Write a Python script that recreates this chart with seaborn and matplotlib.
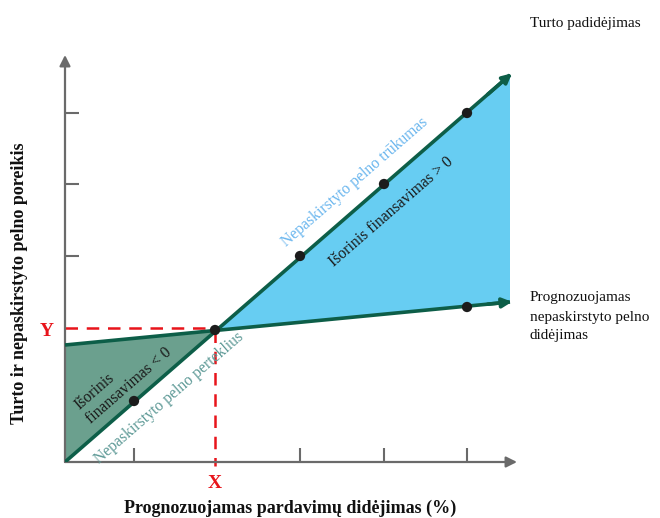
import numpy as np
import pandas as pd
import seaborn as sns
import matplotlib.pyplot as plt

# schematic values (axis units ~ pixels of the original figure)
x_ticks = [69, 235, 319, 402]
y_ticks = [61, 206, 278, 349]

asset_x = [0, 445]          # Turto padidėjimas
asset_y = [0, 387]
earn_x = [0, 445]           # Prognozuojamas nepaskirstyto pelno didėjimas
earn_y = [117, 160]

cross_x = 150
cross_y = 132

dot_x = [69, 235, 319, 402, 402, 150]
dot_y = [61, 206, 278, 349, 155, 132]

line_col = '#0d5e48'
blue = '#67cdf2'
green = '#6ba08e'
red = '#e8141b'
axis_col = '#6a6a6a'

sns.set_theme(style='white')
plt.rcParams['font.family'] = ['Liberation Serif', 'DejaVu Serif']

fig = plt.figure(figsize=(6.6, 5.18), dpi=100)
ax = fig.add_axes([65 / 660, 56 / 518, 455 / 660, 410 / 518])
ax.set_xlim(0, 455)
ax.set_ylim(0, 410)
for s in ax.spines.values():
    s.set_visible(False)

# axes with arrows
ax.annotate('', xy=(452, 0), xytext=(0, 0),
            arrowprops=dict(arrowstyle='-|>', color=axis_col, lw=1.6, mutation_scale=16,
                            shrinkA=0, shrinkB=0), annotation_clip=False)
ax.annotate('', xy=(0, 407), xytext=(0, 0),
            arrowprops=dict(arrowstyle='-|>', color=axis_col, lw=1.6, mutation_scale=16,
                            shrinkA=0, shrinkB=0), annotation_clip=False)
ax.set_xticks(x_ticks)
ax.set_yticks(y_ticks)
ax.tick_params(direction='in', length=10, width=1.5, color=axis_col,
               labelbottom=False, labelleft=False, bottom=True, left=True)

# filled regions
ax.fill([cross_x, asset_x[1], earn_x[1]], [cross_y, asset_y[1], earn_y[1]],
        color=blue, lw=0, zorder=1)
ax.fill([asset_x[0], cross_x, earn_x[0]], [asset_y[0], cross_y, earn_y[0]],
        color=green, lw=0, zorder=1)

# lines
df_a = pd.DataFrame({'x': asset_x, 'y': asset_y})
df_e = pd.DataFrame({'x': earn_x, 'y': earn_y})
sns.lineplot(data=df_a, x='x', y='y', color=line_col, lw=2.6, ax=ax, zorder=3,
             estimator=None, solid_capstyle='butt')
sns.lineplot(data=df_e, x='x', y='y', color=line_col, lw=2.6, ax=ax, zorder=3,
             estimator=None, solid_capstyle='butt')
for xs, ys in [(asset_x, asset_y), (earn_x, earn_y)]:
    bx = xs[0] + 0.95 * (xs[1] - xs[0])
    by = ys[0] + 0.95 * (ys[1] - ys[0])
    ax.annotate('', xy=(xs[1] + 2, ys[1] + 2 * (ys[1] - ys[0]) / (xs[1] - xs[0])),
                xytext=(bx, by),
                arrowprops=dict(arrowstyle='-|>', color=line_col, lw=2.6,
                                mutation_scale=14, shrinkA=0, shrinkB=0),
                annotation_clip=False, zorder=3)

# red dashed guides
ax.plot([0, cross_x], [cross_y + 2, cross_y + 2], color=red, lw=1.8, ls=(0, (5, 3.5)),
        zorder=2, clip_on=False)
ax.plot([cross_x, cross_x], [cross_y, -4], color=red, lw=1.8, ls=(0, (5, 3.5)),
        zorder=2, clip_on=False)

sns.scatterplot(x=dot_x, y=dot_y, color='#1c1c1c', s=55, ax=ax, zorder=4,
                edgecolor='none')

ax.set_xlabel('')
ax.set_ylabel('')

# labels along lines
fs_in = 11.3
ax.text(290, 280, 'Nepaskirstyto pelno trūkumas', rotation=41, rotation_mode='anchor',
        ha='center', va='center', color='#6ab6ee', fontsize=fs_in)
ax.text(326, 250, 'Išorinis finansavimas > 0', rotation=41, rotation_mode='anchor',
        ha='center', va='center', color='#1a1a1a', fontsize=fs_in)
ax.text(58, 83, 'Išorinis\nfinansavimas < 0', rotation=41, rotation_mode='anchor',
        ha='center', va='center', multialignment='left', color='#1a1a1a', fontsize=fs_in)
ax.text(104, 64, 'Nepaskirstyto pelno perteklius', rotation=41, rotation_mode='anchor',
        ha='center', va='center', color='#5d9996', fontsize=fs_in)

# X / Y markers
ax.text(cross_x, -21, 'X', ha='center', va='center', color=red, fontsize=14,
        fontweight='bold')
ax.text(-18, cross_y - 2, 'Y', ha='center', va='center', color=red, fontsize=14,
        fontweight='bold')

# outside labels
fig.text(530 / 660, 1 - 23 / 518, 'Turto padidėjimas', ha='left', va='center',
         fontsize=11, color='#111111')
fig.text(530 / 660, 1 - 317 / 518, 'Prognozuojamas\nnepaskirstyto pelno\ndidėjimas',
         ha='left', va='center', fontsize=11, color='#111111', linespacing=1.6)
fig.text(20 / 660, 1 - 283 / 518, 'Turto ir nepaskirstyto pelno poreikis', rotation=90,
         ha='center', va='center', fontsize=13, fontweight='bold', color='#111111')
fig.text(290 / 660, 1 - 508 / 518, 'Prognozuojamas pardavimų didėjimas (%)',
         ha='center', va='center', fontsize=13, fontweight='bold', color='#111111')

fig.savefig('out.png', dpi=100)
